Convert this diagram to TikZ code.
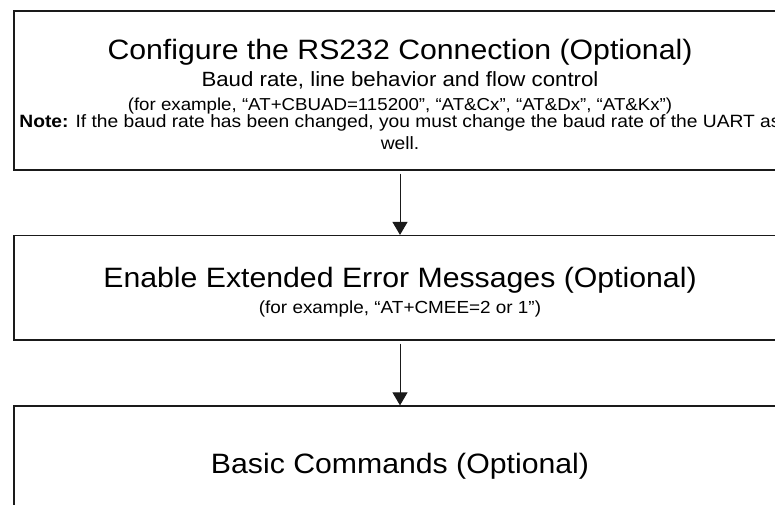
\documentclass[tikz,border=0pt]{standalone}
\usepackage{fontspec}
\newfontfamily\boxfont{Liberation Sans}[FakeStretch=1.08]
\usetikzlibrary{arrows.meta}
\definecolor{ink}{HTML}{1A1A1A}

\begin{document}
\begin{tikzpicture}[x=1pt,y=-1pt,>={Triangle[width=15pt,length=13pt]},
  stepbox/.style={draw=ink,line width=1.3pt,minimum width=772pt,inner sep=0pt},
  txt/.style={anchor=base,inner sep=0pt,text=black},
  big/.style={txt,font=\boxfont\fontsize{28}{32}\selectfont}]
\useasboundingbox (0,0) rectangle (775,504);
\clip (0,0) rectangle (775,504);
\node[stepbox,minimum height=159pt] (rs) at (400,90.5) {};
\node[stepbox,minimum height=104.5pt] (err) at (400,287.8) {};
\node[stepbox,minimum height=170pt] (cmd) at (400,491) {};
\node[big] (rsT) at (400,59) {Configure the RS232 Connection (Optional)};
\node[txt,font=\boxfont\fontsize{20.6}{24}\selectfont] (rsA) at (400,86) {Baud rate, line behavior and flow control};
\node[txt,font=\boxfont\fontsize{17.3}{20}\selectfont] (rsB) at (400,110) {(for example, “AT+CBUAD=115200”, “AT\&Cx”, “AT\&Dx”, “AT\&Kx”)};
\node[txt,font=\boxfont\fontsize{17.8}{21}\selectfont] (rsC) at (400,127.5) {\textbf{Note:} If the baud rate has been changed, you must change the baud rate of the UART as};
\node[txt,font=\boxfont\fontsize{17.8}{21}\selectfont] (rsD) at (400,149) {well.};
\node[big] (errT) at (400,287) {Enable Extended Error Messages (Optional)};
\node[txt,font=\boxfont\fontsize{17.5}{21}\selectfont] (errA) at (400,313) {(for example, “AT+CMEE=2 or 1”)};
\node[big] (cmdT) at (400,473) {Basic Commands (Optional)};
\draw[->,ink,line width=1pt] ([yshift=-3pt]rs.south) -- (err.north);
\draw[->,ink,line width=1pt] ([yshift=-3pt]err.south) -- (cmd.north);
\end{tikzpicture}
\end{document}
